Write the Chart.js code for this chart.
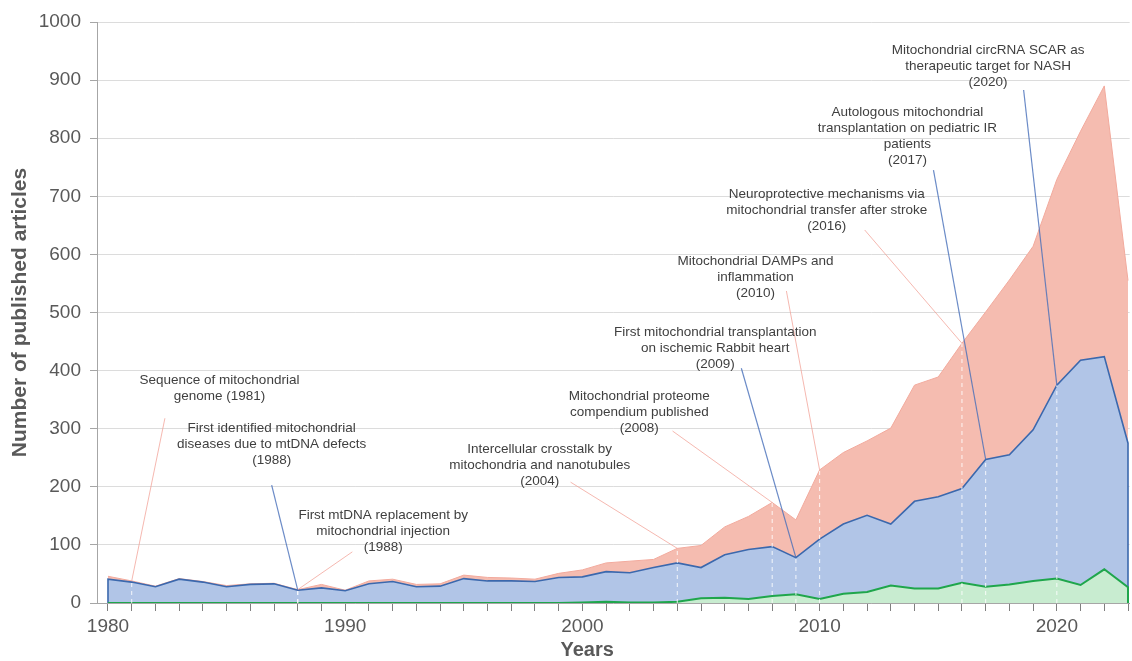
<!DOCTYPE html>
<html>
<head>
<meta charset="utf-8">
<script src="https://cdn.jsdelivr.net/npm/chart.js@4/dist/chart.umd.min.js"></script>
<style>
  html, body { margin: 0; padding: 0; background: #fff; }
  #wrap { width: 1132px; height: 661px; position: relative; }
</style>
</head>
<body>
<div id="wrap"><canvas id="chart"></canvas></div>
<script>
// Years on the x axis
const years = [1980, 1981, 1982, 1983, 1984, 1985, 1986, 1987, 1988, 1989,
  1990, 1991, 1992, 1993, 1994, 1995, 1996, 1997, 1998, 1999,
  2000, 2001, 2002, 2003, 2004, 2005, 2006, 2007, 2008, 2009,
  2010, 2011, 2012, 2013, 2014, 2015, 2016, 2017, 2018, 2019,
  2020, 2021, 2022, 2023];

// Top (salmon) area
const redValues = [46, 38, 29, 42, 37, 30, 33, 34, 23, 32,
  22, 38, 41, 32, 33, 48, 44, 43, 41, 51,
  57, 69, 72, 75, 94, 99, 131, 149, 173, 143,
  229, 259, 279, 301, 375, 389, 447, 501, 556, 614,
  729, 812, 890, 555];

// Middle (blue) area
const blueValues = [41, 36, 28, 41, 36, 28, 32, 33, 22, 26,
  21, 33, 37, 28, 29, 42, 38, 38, 37, 44,
  45, 54, 52, 61, 69, 61, 83, 92, 97, 78,
  110, 136, 151, 136, 175, 183, 197, 247, 255, 298,
  375, 418, 424, 275];

// Bottom (green) area
const greenValues = [0, 0, 0, 0, 0, 0, 0, 0, 0, 0,
  0, 0, 0, 0, 0, 0, 0, 0, 0, 0,
  1, 2, 1, 1, 2, 8, 9, 7, 12, 15,
  7, 16, 19, 30, 25, 25, 35, 28, 32, 38,
  42, 31, 58, 27];

const yTicks = [0, 100, 200, 300, 400, 500, 600, 700, 800, 900, 1000];

// Milestones: label centre (tx, ty), leader start (lx, ly), pointing at the series in that year
const notes = [
  { year: 1981, series: "red", lines: ["Sequence of mitochondrial", "genome (1981)"], tx: 1984.7, ty: 384, lx: 1982.4, ly: 318 },
  { year: 1988, series: "blue", lines: ["First identified mitochondrial", "diseases due to mtDNA defects", "(1988)"], tx: 1986.9, ty: 301, lx: 1986.9, ly: 203 },
  { year: 1988, series: "red", lines: ["First mtDNA replacement by", "mitochondrial injection", "(1988)"], tx: 1991.6, ty: 151, lx: 1990.3, ly: 88 },
  { year: 2004, series: "red", lines: ["Intercellular crosstalk by", "mitochondria and nanotubules", "(2004)"], tx: 1998.2, ty: 265, lx: 1999.5, ly: 208 },
  { year: 2008, series: "red", lines: ["Mitochondrial proteome", "compendium published", "(2008)"], tx: 2002.4, ty: 356, lx: 2003.8, ly: 296 },
  { year: 2009, series: "blue", lines: ["First mitochondrial transplantation", "on ischemic Rabbit heart", "(2009)"], tx: 2005.6, ty: 466, lx: 2006.7, ly: 404 },
  { year: 2010, series: "red", lines: ["Mitochondrial DAMPs and", "inflammation", "(2010)"], tx: 2007.3, ty: 589, lx: 2008.6, ly: 537 },
  { year: 2016, series: "red", lines: ["Neuroprotective mechanisms via", "mitochondrial transfer after stroke", "(2016)"], tx: 2010.3, ty: 704, lx: 2011.9, ly: 642 },
  { year: 2017, series: "blue", lines: ["Autologous mitochondrial", "transplantation on pediatric IR", "patients", "(2017)"], tx: 2013.7, ty: 845, lx: 2014.8, ly: 745 },
  { year: 2020, series: "blue", lines: ["Mitochondrial circRNA SCAR as", "therapeutic target for NASH", "(2020)"], tx: 2017.1, ty: 952, lx: 2018.6, ly: 883 },
];

const seriesValues = { red: redValues, blue: blueValues };
const leaderColors = { red: "rgba(242,160,150,0.75)", blue: "rgba(70,110,185,0.8)" };

// closed outline: start and end on the baseline
function outline(values) {
  const pts = years.map((y, i) => ({ x: y, y: values[i] }));
  return [{ x: years[0], y: 0 }, ...pts, { x: years[years.length - 1], y: 0 }];
}

const fontFamily = "'Liberation Sans', Arial, sans-serif";

const milestonePlugin = {
  id: "milestones",
  afterDatasetsDraw(chart) {
    const { ctx } = chart;
    const xs = chart.scales.x;
    const ys = chart.scales.y;
    ctx.save();

    // white dashed guides inside the areas
    ctx.setLineDash([4, 4]);
    ctx.strokeStyle = "rgba(255,255,255,0.85)";
    ctx.lineWidth = 1;
    notes.forEach((n) => {
      const v = seriesValues[n.series][years.indexOf(n.year)];
      const px = xs.getPixelForValue(n.year);
      ctx.beginPath();
      ctx.moveTo(px, ys.getPixelForValue(0));
      ctx.lineTo(px, ys.getPixelForValue(v));
      ctx.stroke();
    });
    ctx.setLineDash([]);

    // leaders
    notes.forEach((n) => {
      const v = seriesValues[n.series][years.indexOf(n.year)];
      ctx.strokeStyle = leaderColors[n.series];
      ctx.lineWidth = n.series === "blue" ? 1.2 : 1;
      ctx.beginPath();
      ctx.moveTo(xs.getPixelForValue(n.lx), ys.getPixelForValue(n.ly));
      ctx.lineTo(xs.getPixelForValue(n.year), ys.getPixelForValue(v));
      ctx.stroke();
    });

    // labels
    ctx.fillStyle = "#404040";
    ctx.font = "13.5px " + fontFamily;
    ctx.textAlign = "center";
    ctx.textBaseline = "middle";
    notes.forEach((n) => {
      const cx = xs.getPixelForValue(n.tx);
      const cy = ys.getPixelForValue(n.ty);
      n.lines.forEach((line, i) => ctx.fillText(line, cx, cy + i * 16));
    });

    // x axis title
    ctx.fillStyle = "#595959";
    ctx.font = "bold 20px " + fontFamily;
    ctx.fillText("Years", xs.getPixelForValue(2000.2), chart.height - 11);
    ctx.restore();
  },
};

const ctx = document.getElementById("chart").getContext("2d");
const chart = new Chart(ctx, {
  type: "line",
  data: {
    datasets: [
      {
        data: outline(greenValues),
        borderColor: "#1fa64c",
        backgroundColor: "rgba(200,236,208,1)",
        borderWidth: 2,
        fill: "origin",
      },
      {
        data: outline(blueValues),
        borderColor: "#3b68ad",
        backgroundColor: "rgba(177,197,231,1)",
        borderWidth: 1.6,
        fill: "origin",
      },
      {
        data: redValues.map((v, i) => ({ x: years[i], y: v })),
        borderColor: "#f2aa9d",
        backgroundColor: "rgba(245,188,176,1)",
        borderWidth: 1,
        fill: "origin",
      },
    ],
  },
  options: {
    responsive: true,
    maintainAspectRatio: false,
    animation: false,
    layout: { padding: { top: 22, right: 0, left: 0, bottom: 0 } },
    elements: { point: { radius: 0 }, line: { tension: 0 } },
    plugins: { legend: { display: false }, tooltip: { enabled: false } },
    scales: {
      x: {
        type: "linear",
        min: 1979.537,
        max: 2023.07,
        afterFit: (s) => { s.height = 58; },
        afterBuildTicks: (s) => { s.ticks = years.map((v) => ({ value: v })); },
        grid: { drawOnChartArea: false, drawTicks: true, tickLength: 8, tickColor: "#7f7f7f" },
        border: { color: "#a6a6a6" },
        ticks: {
          autoSkip: false,
          maxRotation: 0,
          padding: 4,
          color: "#595959",
          font: { size: 19, family: fontFamily },
          callback: (v) => (v % 10 === 0 ? String(v) : ""),
        },
      },
      y: {
        min: 0,
        max: 1000,
        afterFit: (s) => { s.width = 97; },
        afterBuildTicks: (s) => { s.ticks = yTicks.map((v) => ({ value: v })); },
        grid: { color: "#dcdcdc", tickColor: "#a6a6a6", tickLength: 7 },
        border: { color: "#a6a6a6" },
        ticks: {
          padding: 9,
          color: "#595959",
          font: { size: 19, family: fontFamily },
          callback: (v) => String(v),
        },
        title: {
          display: true,
          text: "Number of published articles",
          color: "#595959",
          font: { size: 21, weight: "bold", family: fontFamily },
          padding: { top: 8, bottom: 0 },
        },
      },
    },
  },
  plugins: [milestonePlugin],
});
</script>
</body>
</html>
